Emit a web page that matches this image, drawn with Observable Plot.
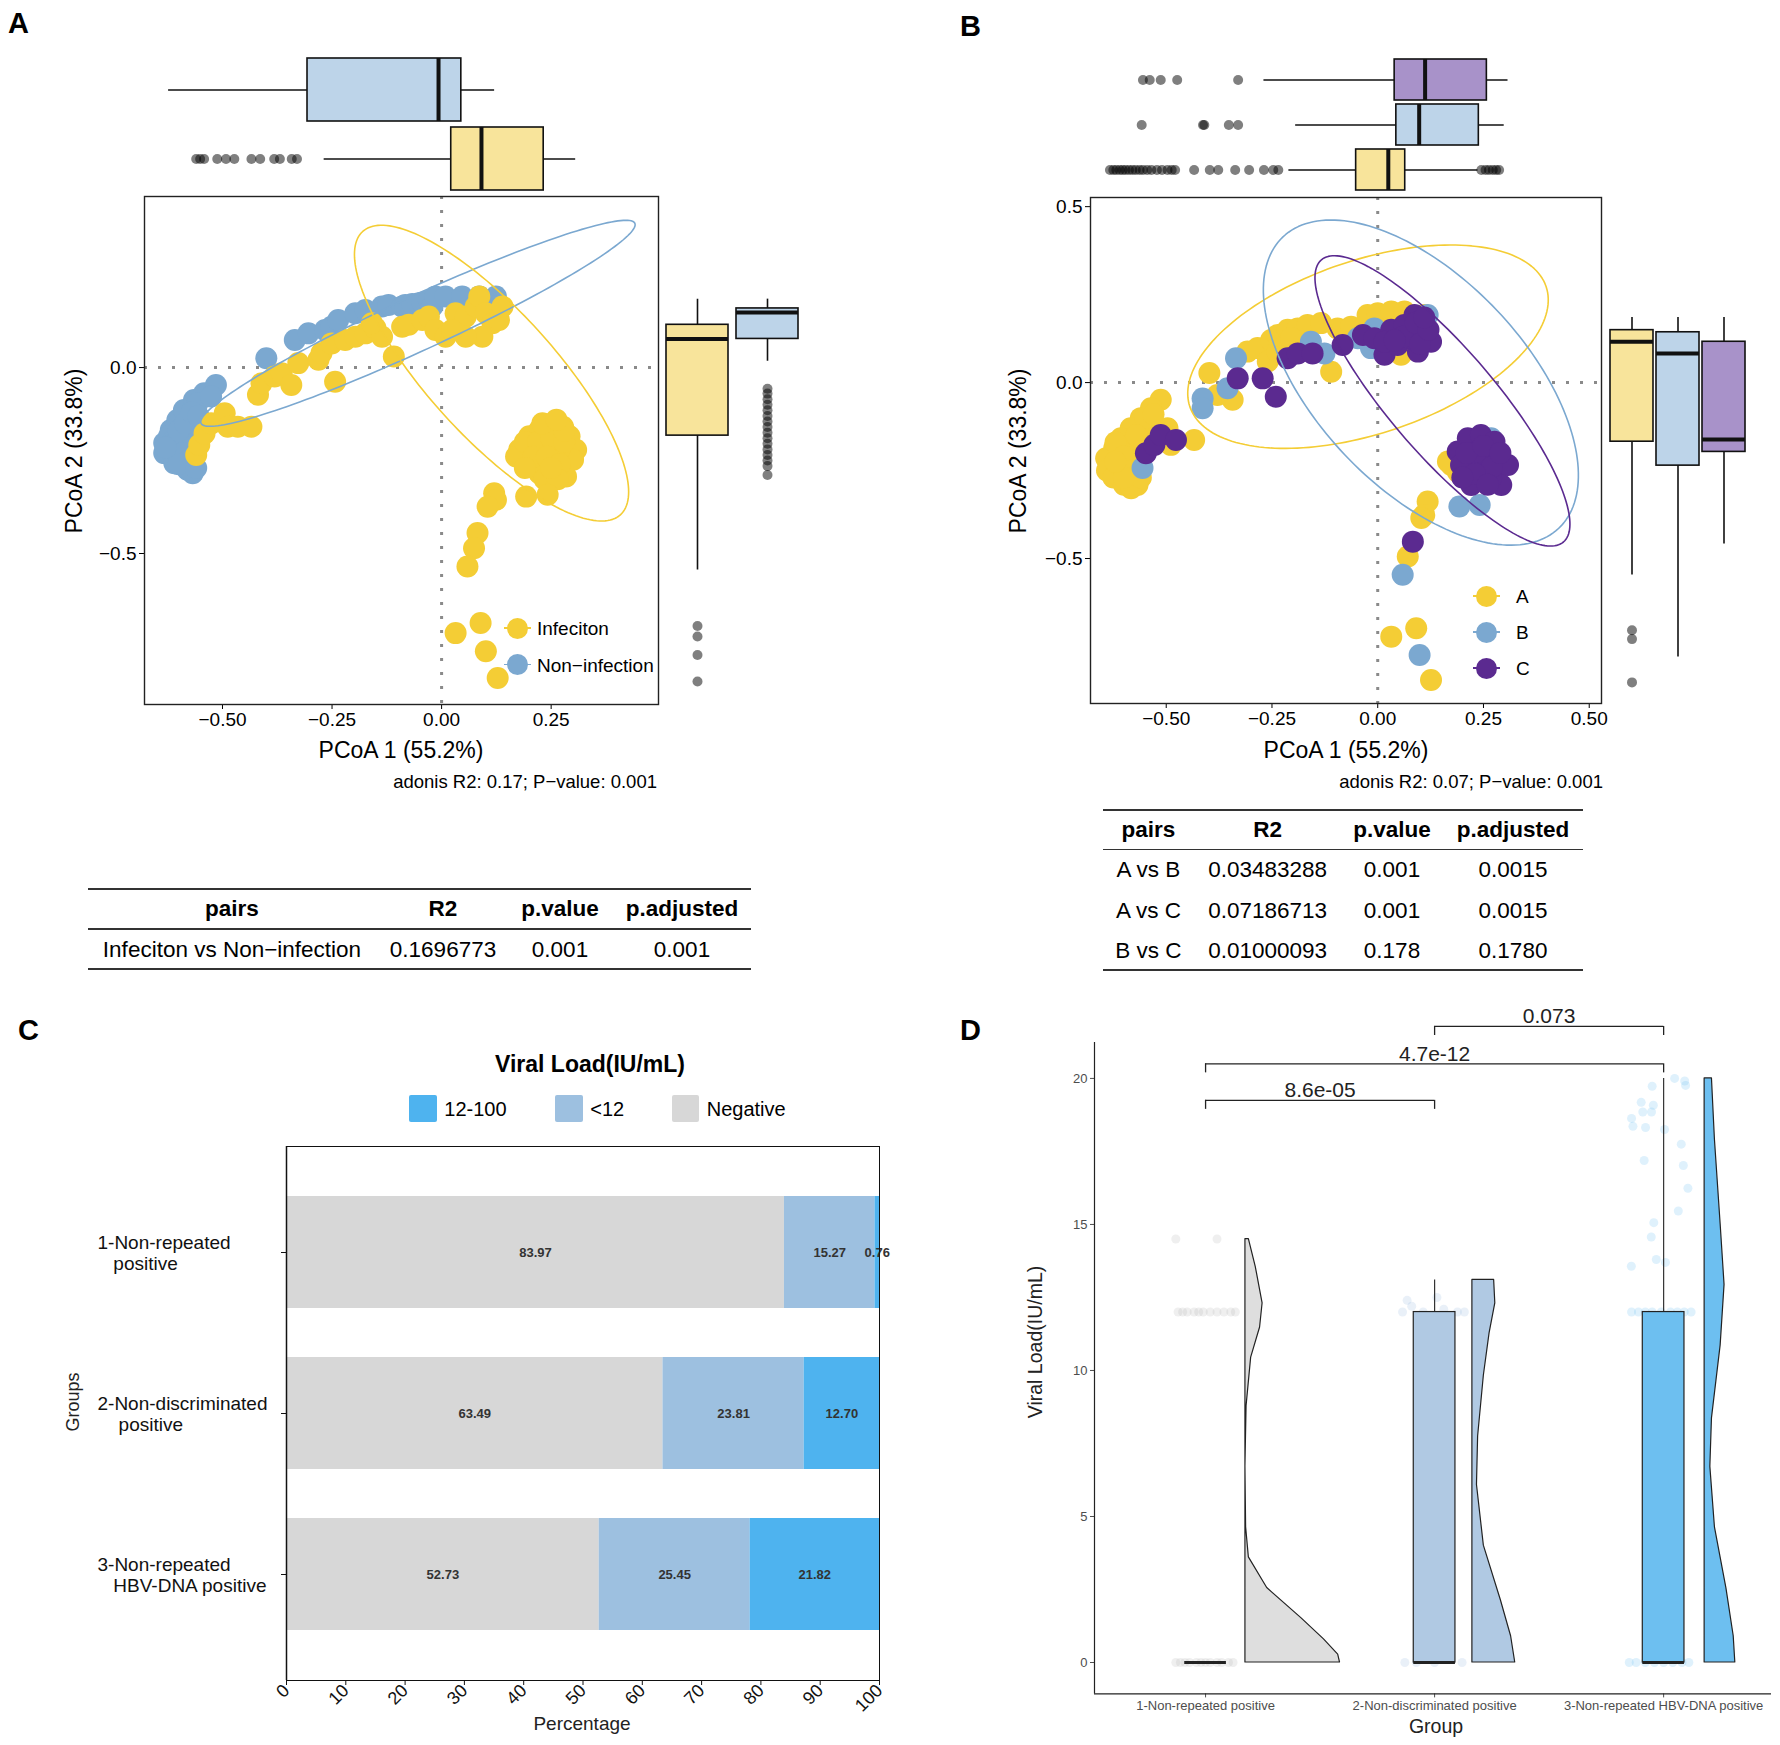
<!DOCTYPE html>
<html><head><meta charset="utf-8">
<script src="https://cdn.jsdelivr.net/npm/d3@7"></script>
<script src="https://cdn.jsdelivr.net/npm/@observablehq/plot@0.6"></script>
<style>
body{margin:0;background:#fff;}
#fig{position:relative;width:1780px;height:1745px;font-family:"Liberation Sans",Arial,sans-serif;background:#fff;overflow:hidden;}
#fig svg{position:absolute;}
</style></head><body><div id="fig"></div>
<script>
// ---------------- DATA ----------------
// Panel A
const groupsA = ["Infeciton", "Non-infection"];
const colorA = {"Infeciton": "#F4CD35", "Non-infection": "#7BA8D0"};
const fillA = {"Infeciton": "#F8E49B", "Non-infection": "#BDD4E9"};
const ptsA_non = [[-0.626,-0.230],[-0.633,-0.203],[-0.618,-0.168],[-0.603,-0.141],[-0.588,-0.114],[-0.565,-0.087],[-0.542,-0.069],[-0.515,-0.047],[-0.603,-0.248],[-0.580,-0.275],[-0.568,-0.284],[-0.622,-0.185],[-0.595,-0.221],[-0.610,-0.194],[-0.572,-0.168],[-0.588,-0.185],[-0.557,-0.096],[-0.526,-0.078],[-0.633,-0.230],[-0.610,-0.257],
 [-0.620,-0.210],[-0.600,-0.170],[-0.590,-0.230],[-0.575,-0.250],[-0.600,-0.260],[-0.630,-0.215],[-0.560,-0.270],[-0.585,-0.150],[-0.570,-0.120],[-0.555,-0.130],
 [-0.400,0.025],[-0.335,0.074],[-0.304,0.092],[-0.266,0.101],[-0.251,0.110],[-0.236,0.128],[-0.197,0.146],[-0.174,0.155],[-0.136,0.164],[-0.121,0.168],[-0.090,0.164],[-0.083,0.168],[-0.067,0.171],[-0.052,0.173],[-0.044,0.175],[-0.029,0.180],[-0.021,0.164],[-0.014,0.191],[0.009,0.191],[0.047,0.191],[0.086,0.191],[0.124,0.191]];
const ptsA_inf = [[-0.560,-0.235],[-0.553,-0.208],[-0.541,-0.177],[-0.526,-0.150],[-0.495,-0.123],[-0.488,-0.159],[-0.465,-0.159],[-0.434,-0.159],[-0.419,-0.073],[-0.411,-0.042],[-0.381,-0.024],[-0.365,-0.015],[-0.343,-0.047],[-0.327,0.012],[-0.281,0.021],[-0.274,0.039],[-0.251,0.065],[-0.220,0.074],[-0.197,0.083],[-0.174,0.092],[-0.151,0.106],[-0.136,0.083],[-0.159,0.119],[-0.243,-0.038],[-0.109,0.030],[-0.090,0.110],[-0.075,0.115],[-0.044,0.128],[-0.029,0.137],[-0.014,0.101],[0.009,0.083],[0.032,0.146],[0.055,0.137],[0.078,0.164],[0.086,0.191],[0.101,0.146],[0.116,0.119],[0.131,0.128],[0.093,0.083],[0.055,0.083],[0.024,0.101],[0.139,0.164],
 [0.177,-0.221],[0.200,-0.185],[0.223,-0.168],[0.254,-0.150],[0.277,-0.159],[0.292,-0.185],[0.307,-0.221],[0.300,-0.248],[0.284,-0.293],[0.254,-0.275],[0.231,-0.266],[0.200,-0.257],[0.170,-0.239],[0.216,-0.221],[0.246,-0.212],[0.269,-0.221],[0.239,-0.185],[0.208,-0.203],[0.223,-0.284],[0.261,-0.248],
 [0.190,-0.200],[0.220,-0.200],[0.250,-0.190],[0.280,-0.200],[0.210,-0.240],[0.240,-0.240],[0.270,-0.260],[0.190,-0.270],[0.235,-0.300],[0.265,-0.300],[0.280,-0.170],[0.230,-0.150],[0.250,-0.270],[0.262,-0.140],
 [0.193,-0.347],[0.242,-0.342],[0.120,-0.338],[0.124,-0.356],[0.105,-0.374],[0.082,-0.445],[0.074,-0.486],[0.059,-0.535],[0.032,-0.714],[0.089,-0.687],[0.101,-0.763],[0.128,-0.835]];
// stat_ellipse outlines: centre, semi-major and semi-minor vectors
const ellipseA_non = {cx:-0.054, cy:0.119, ax:0.495, ay:0.269, bx:0.026, by:-0.066};
const ellipseA_inf = {cx:0.114, cy:-0.015, ax:0.294, ay:-0.381, bx:0.107, by:0.114};
// marginal boxplots A (x = PCoA1 on top, y = PCoA2 on right)
const topA = [
  {g:"Non-infection", lo:-0.623, q1:-0.306, med:-0.007, q3:0.045, hi:0.121},
  {g:"Infeciton", lo:-0.268, q1:0.022, med:0.091, q3:0.233, hi:0.306}];
const outTopA_inf = [-0.560,-0.551,-0.542,-0.512,-0.492,-0.473,-0.434,-0.414,-0.382,-0.369,-0.342,-0.330];
const rightA = [
  {g:"Infeciton", lo:-0.544, q1:-0.183, med:0.077, q3:0.115, hi:0.184},
  {g:"Non-infection", lo:0.017, q1:0.077, med:0.148, q3:0.159, hi:0.184}];
const outRightA_inf = [-0.695,-0.723,-0.773,-0.844];
const outRightA_non = [-0.057,-0.070,-0.085,-0.100,-0.115,-0.130,-0.145,-0.160,-0.175,-0.190,-0.205,-0.220,-0.235,-0.250,-0.265,-0.289];

// Panel B
const groupsB = ["A", "B", "C"];
const colorB = {A: "#F4CD35", B: "#7BA8D0", C: "#5B2A90"};
const fillB = {A: "#F8E49B", B: "#BDD4E9", C: "#A892C9"};
const ptsB_A = [[-0.513,-0.049],[-0.536,-0.073],[-0.560,-0.101],[-0.584,-0.130],[-0.607,-0.158],[-0.623,-0.187],[-0.631,-0.215],[-0.635,-0.243],[-0.615,-0.262],[-0.591,-0.281],[-0.568,-0.291],[-0.599,-0.234],[-0.576,-0.196],[-0.552,-0.139],[-0.528,-0.120],[-0.497,-0.130],[-0.489,-0.177],[-0.434,-0.163],[-0.615,-0.196],[-0.631,-0.234],[-0.642,-0.215],[-0.640,-0.250],[-0.625,-0.270],[-0.600,-0.290],[-0.583,-0.300],
 [-0.620,-0.170],[-0.600,-0.210],[-0.580,-0.250],[-0.560,-0.270],[-0.600,-0.270],[-0.550,-0.100],[-0.530,-0.090],[-0.570,-0.150],[-0.620,-0.225],
 [-0.398,0.027],[-0.379,-0.035],[-0.343,-0.049],[-0.308,0.088],[-0.284,0.098],[-0.252,0.121],[-0.237,0.135],[-0.213,0.150],[-0.189,0.154],[-0.166,0.164],[-0.134,0.169],[-0.110,0.031],[-0.260,0.060],[-0.237,0.088],[-0.205,0.126],[-0.095,0.154],[-0.063,0.159],[-0.024,0.192],[0.000,0.197],[0.032,0.202],[0.063,0.202],[0.055,0.079],[0.016,0.088],[0.079,0.192],[0.110,0.192],
 [0.174,-0.234],[0.189,-0.253],[0.166,-0.224],[0.118,-0.338],[0.110,-0.376],[0.103,-0.385],[0.071,-0.494],[0.032,-0.722],[0.091,-0.698],[0.126,-0.845]];
const ptsB_B = [[-0.335,0.069],[-0.355,-0.016],[-0.414,-0.045],[-0.414,-0.073],[-0.556,-0.243],[-0.158,0.116],[-0.126,0.083],[-0.008,0.154],[0.118,0.192],[-0.016,0.098],[0.268,-0.158],[0.193,-0.352],[0.241,-0.348],[0.221,-0.281],[0.059,-0.546],[0.099,-0.774],[-0.047,0.126]];
const ptsB_C = [[-0.331,0.012],[-0.272,0.012],[-0.241,-0.040],[-0.548,-0.201],[-0.528,-0.177],[-0.513,-0.149],[-0.477,-0.163],[-0.213,0.069],[-0.189,0.083],[-0.154,0.083],[-0.083,0.107],[-0.035,0.135],[-0.008,0.126],[0.016,0.079],[0.032,0.150],[0.063,0.164],[0.087,0.192],[0.110,0.145],[0.126,0.116],[0.047,0.107],[0.095,0.088],[0.079,0.126],[0.016,0.116],
 [0.060,0.130],[0.090,0.170],[0.100,0.110],[0.120,0.150],[0.040,0.120],[0.110,0.185],
 [0.189,-0.196],[0.213,-0.158],[0.244,-0.149],[0.276,-0.168],[0.300,-0.234],[0.292,-0.291],[0.268,-0.272],[0.221,-0.291],[0.229,-0.234],[0.260,-0.215],[0.197,-0.234],[0.237,-0.196],[0.280,-0.206],[0.308,-0.234],[0.248,-0.262],
 [0.210,-0.200],[0.250,-0.180],[0.270,-0.240],[0.230,-0.260],[0.260,-0.290],[0.200,-0.270],[0.290,-0.200],
 [0.083,-0.452]];
const ellipseB_A = {cx:-0.023, cy:0.102, ax:0.421, ay:0.171, bx:0.066, by:-0.233};
const ellipseB_B = {cx:0.102, cy:0.000, ax:0.326, ay:-0.414, bx:0.180, by:0.205};
const ellipseB_C = {cx:0.153, cy:-0.052, ax:0.286, ay:-0.401, bx:0.095, by:0.097};
const topB = [
  {g:"C", lo:-0.269, q1:0.040, med:0.112, q3:0.258, hi:0.308},
  {g:"B", lo:-0.194, q1:0.044, med:0.098, q3:0.239, hi:0.299},
  {g:"A", lo:-0.210, q1:-0.051, med:0.025, q3:0.065, hi:0.237}];
const outTopB_C = [-0.555,-0.539,-0.513,-0.474,-0.330];
const outTopB_B = [-0.558,-0.413,-0.410,-0.352,-0.330];
const outTopB_A = [-0.633,-0.625,-0.618,-0.610,-0.603,-0.596,-0.588,-0.580,-0.572,-0.563,-0.555,-0.545,-0.535,-0.522,-0.510,-0.497,-0.487,-0.479,-0.434,-0.397,-0.377,-0.337,-0.304,-0.269,-0.247,-0.235,0.245,0.255,0.263,0.272,0.280,0.287];
const rightB = [
  {g:"A", lo:-0.547, q1:-0.168, med:0.116, q3:0.149, hi:0.185},
  {g:"B", lo:-0.780, q1:-0.236, med:0.083, q3:0.143, hi:0.185},
  {g:"C", lo:-0.459, q1:-0.197, med:-0.162, q3:0.116, hi:0.185}];
const outRightB_A = [-0.704,-0.729,-0.852];

// adonis pairwise tables
const tableHead = ["pairs", "R2", "p.value", "p.adjusted"];
const tableA = [["Infeciton vs Non\u2212infection", "0.1696773", "0.001", "0.001"]];
const tableB = [["A vs B", "0.03483288", "0.001", "0.0015"], ["A vs C", "0.07186713", "0.001", "0.0015"], ["B vs C", "0.01000093", "0.178", "0.1780"]];

// Panel C
const groupsC = ["1-Non-repeated positive", "2-Non-discriminated positive", "3-Non-repeated HBV-DNA positive"];
const labelsC = ["1-Non-repeated\n\u00a0\u00a0\u00a0positive", "2-Non-discriminated\n\u00a0\u00a0\u00a0\u00a0positive", "3-Non-repeated\n\u00a0\u00a0\u00a0HBV-DNA positive"];
const levelsC = ["12-100", "<12", "Negative"];
const colorsC = ["#4EB3EF", "#9DC0E0", "#D7D7D7"];
const negC = [83.97, 63.49, 52.73];
const lowC = [15.27, 23.81, 25.45];
const highC = [0.76, 12.70, 21.82];
const ticksC = [0, 10, 20, 30, 40, 50, 60, 70, 80, 90, 100];

// Panel D
const groupsD = ["1-Non-repeated positive", "2-Non-discriminated positive", "3-Non-repeated HBV-DNA positive"];
const colorsD = ["#DEDEDE", "#B0C9E3", "#6DBFF0"];
const jitColorsD = ["#B5B5B5", "#9DBCE0", "#6DBFF0"];
const posD = [1, 2, 3];
const q1D = [0, 0, 0], medD = [0, 0, 0], q3D = [0, 12, 12], hiD = [0, 13.1, 20];
const violinBaseD = [1.174, 2.165, 3.179];
const violin1 = [[0,0.413],[0.27,0.405],[0.79,0.343],[1.52,0.244],[2.55,0.095],[3.6,0.015],[4.63,0.003],[6.7,0.0],[8.78,0.005],[10.44,0.025],[11.47,0.064],[12.3,0.075],[13.55,0.045],[14.5,0.015]];
const violin2 = [[0,0.187],[0.9,0.169],[2.14,0.124],[4.0,0.050],[6.08,0.020],[7.74,0.025],[9.82,0.050],[11.27,0.075],[12.3,0.100],[13.1,0.095]];
const violin3 = [[0,0.134],[0.9,0.127],[2.55,0.095],[4.63,0.045],[6.7,0.025],[8.36,0.032],[10.86,0.070],[12.93,0.087],[15.0,0.070],[17.9,0.045],[20.0,0.032]];
const jit1 = [[0.87,0],[0.89,0],[0.91,0],[0.93,0],[0.96,0],[0.98,0],[1.0,0],[1.02,0],[1.05,0],[1.07,0],[1.1,0],[1.12,0],[0.88,12],[0.9,12],[0.92,12],[0.95,12],[0.97,12],[0.99,12],[1.02,12],[1.05,12],[1.08,12],[1.11,12],[1.13,12],[0.87,14.5],[1.05,14.5]];
const jit2 = [[1.86,12],[1.88,12.4],[1.9,12.2],[1.95,12],[2.01,12.5],[2.04,12.1],[2.1,12],[2.13,12],[1.87,0],[1.92,0],[2.0,0],[2.12,0]];
const jit3 = [[3.048,20.0],[3.092,19.91],[3.096,19.76],[2.950,19.73],[2.902,19.18],[2.955,19.08],[2.909,18.85],[2.947,18.85],[2.860,18.63],[2.866,18.36],[2.921,18.32],[3.004,18.25],[3.077,17.75],[2.915,17.19],[3.086,17.02],[3.106,16.24],[3.064,15.46],[2.957,15.06],[2.946,14.57],[2.859,13.57],[2.968,13.80],[3.008,13.70],[2.86,12],[2.89,12],[2.92,12],[2.95,12],[2.99,12],[3.03,12],[3.06,12],[3.09,12],[3.12,12],[2.85,0],[2.88,0],[2.92,0],[2.96,0],[3.0,0],[3.04,0],[3.08,0],[3.11,0]];
const bracketsD = [{x1:1, x2:2, y:19.25, label:"8.6e-05"}, {x1:1, x2:3, y:20.5, label:"4.7e-12"}, {x1:2, x2:3, y:21.78, label:"0.073"}];

// ---------------- HELPERS ----------------
const fig = document.getElementById("fig");
const FONT = '"Liberation Sans", Arial, sans-serif';
function place(svg, left, top) { svg.style.left = left + "px"; svg.style.top = top + "px"; fig.appendChild(svg); }
function txt(s, x, y, o = {}) {
  const d = document.createElement("div");
  d.textContent = s;
  const a = o.anchor || "middle";
  const tx = a === "middle" ? "-50%" : a === "end" ? "-100%" : "0";
  d.style.cssText = `position:absolute;left:${x}px;top:${y}px;white-space:nowrap;line-height:1;font-size:${o.size || 19}px;font-weight:${o.weight || "normal"};color:${o.color || "#000"};transform:translate(${tx},-50%)${o.rotate ? ` rotate(${o.rotate}deg)` : ""};`;
  fig.appendChild(d);
}
function box(x, y, w, h, css) {
  const d = document.createElement("div");
  d.style.cssText = `position:absolute;left:${x}px;top:${y}px;width:${w}px;height:${h}px;${css}`;
  fig.appendChild(d);
}
function hline(x1, x2, y) { box(x1, y - 0.7, x2 - x1, 1.4, "background:#333;"); }
function ellipsePts(e) {
  return d3.range(181).map(i => { const t = 2 * Math.PI * i / 180;
    return {x: e.cx + e.ax * Math.cos(t) + e.bx * Math.sin(t), y: e.cy + e.ay * Math.cos(t) + e.by * Math.sin(t)}; });
}
const styleBase = (size, color = "#000") => ({fontFamily: FONT, fontSize: size + "px", color, background: "transparent", overflow: "visible"});
const dotted = {stroke: "#8a8a8a", strokeWidth: 3, strokeDasharray: "3,11"};
const R = 11;

// ---------------- PANEL A ----------------
const xdomA = [-0.678, 0.495], ydomA = [-0.906, 0.460];
place(Plot.plot({
  width: 680, height: 600, marginLeft: 144, marginRight: 22, marginTop: 16, marginBottom: 76,
  style: styleBase(19),
  x: {domain: xdomA, ticks: [-0.5, -0.25, 0, 0.25], tickFormat: d3.format(".2f"), tickSize: 5, tickPadding: 3, label: null},
  y: {domain: ydomA, ticks: [0, -0.5], tickFormat: d3.format(".1f"), tickSize: 5, tickPadding: 3, label: null},
  marks: [
    Plot.ruleY([0], dotted), Plot.ruleX([0], dotted),
    Plot.dot(ptsA_non, {x: d => d[0], y: d => d[1], r: R, fill: colorA["Non-infection"]}),
    Plot.dot(ptsA_inf, {x: d => d[0], y: d => d[1], r: R, fill: colorA["Infeciton"]}),
    Plot.line(ellipsePts(ellipseA_non), {x: "x", y: "y", stroke: colorA["Non-infection"], strokeWidth: 1.6}),
    Plot.line(ellipsePts(ellipseA_inf), {x: "x", y: "y", stroke: colorA["Infeciton"], strokeWidth: 1.6}),
    Plot.frame({stroke: "#222", strokeWidth: 1.4})
  ]
}), 0, 180);
place(Plot.plot({
  width: 680, height: 160, marginLeft: 144, marginRight: 22, marginTop: 17, marginBottom: 10,
  style: styleBase(19),
  x: {domain: xdomA, axis: null},
  y: {domain: ["Non-infection", "Infeciton"], axis: null, paddingInner: 0.089, paddingOuter: 0},
  marks: [
    Plot.ruleY(topA, {y: "g", x1: "lo", x2: "hi", stroke: "#111", strokeWidth: 1.6}),
    Plot.barX(topA, {y: "g", x1: "q1", x2: "q3", fill: d => fillA[d.g], stroke: "#111", strokeWidth: 1.6}),
    Plot.tickX(topA, {y: "g", x: "med", stroke: "#111", strokeWidth: 4}),
    Plot.dot(outTopA_inf.map(v => ({g: "Infeciton", v})), {x: "v", y: "g", r: 5, fill: "#000", fillOpacity: 0.5})
  ]
}), 0, 40);
place(Plot.plot({
  width: 145, height: 600, marginLeft: 6, marginRight: 6, marginTop: 16, marginBottom: 76,
  style: styleBase(19),
  x: {domain: ["Infeciton", "Non-infection"], axis: null, paddingInner: 0.113, paddingOuter: 0},
  y: {domain: ydomA, axis: null},
  marks: [
    Plot.ruleX(rightA, {x: "g", y1: "lo", y2: "hi", stroke: "#111", strokeWidth: 1.6}),
    Plot.barY(rightA, {x: "g", y1: "q1", y2: "q3", fill: d => fillA[d.g], stroke: "#111", strokeWidth: 1.6}),
    Plot.tickY(rightA, {x: "g", y: "med", stroke: "#111", strokeWidth: 4}),
    Plot.dot(outRightA_inf.map(v => ({g: "Infeciton", v})).concat(outRightA_non.map(v => ({g: "Non-infection", v}))),
      {x: "g", y: "v", r: 5, fill: "#000", fillOpacity: 0.5})
  ]
}), 660, 180);

// ---------------- PANEL B ----------------
const xdomB = [-0.679, 0.529], ydomB = [-0.912, 0.526];
place(Plot.plot({
  width: 720, height: 600, marginLeft: 190, marginRight: 19, marginTop: 17, marginBottom: 77,
  style: styleBase(19),
  x: {domain: xdomB, ticks: [-0.5, -0.25, 0, 0.25, 0.5], tickFormat: d3.format(".2f"), tickSize: 5, tickPadding: 3, label: null},
  y: {domain: ydomB, ticks: [0.5, 0, -0.5], tickFormat: d3.format(".1f"), tickSize: 5, tickPadding: 3, label: null},
  marks: [
    Plot.ruleY([0], dotted), Plot.ruleX([0], dotted),
    Plot.dot(ptsB_A, {x: d => d[0], y: d => d[1], r: R, fill: colorB.A}),
    Plot.dot(ptsB_B, {x: d => d[0], y: d => d[1], r: R, fill: colorB.B}),
    Plot.dot(ptsB_C, {x: d => d[0], y: d => d[1], r: R, fill: colorB.C}),
    Plot.line(ellipsePts(ellipseB_A), {x: "x", y: "y", stroke: colorB.A, strokeWidth: 1.6}),
    Plot.line(ellipsePts(ellipseB_B), {x: "x", y: "y", stroke: colorB.B, strokeWidth: 1.6}),
    Plot.line(ellipsePts(ellipseB_C), {x: "x", y: "y", stroke: colorB.C, strokeWidth: 1.6}),
    Plot.frame({stroke: "#222", strokeWidth: 1.4})
  ]
}), 900, 180);
place(Plot.plot({
  width: 720, height: 160, marginLeft: 190, marginRight: 19, marginTop: 18, marginBottom: 10,
  style: styleBase(19),
  x: {domain: xdomB, axis: null},
  y: {domain: ["C", "B", "A"], axis: null, paddingInner: 0.099, paddingOuter: 0},
  marks: [
    Plot.ruleY(topB, {y: "g", x1: "lo", x2: "hi", stroke: "#111", strokeWidth: 1.6}),
    Plot.barX(topB, {y: "g", x1: "q1", x2: "q3", fill: d => fillB[d.g], stroke: "#111", strokeWidth: 1.6}),
    Plot.tickX(topB, {y: "g", x: "med", stroke: "#111", strokeWidth: 4}),
    Plot.dot([].concat(outTopB_C.map(v => ({g: "C", v})), outTopB_B.map(v => ({g: "B", v})), outTopB_A.map(v => ({g: "A", v}))),
      {x: "v", y: "g", r: 5, fill: "#000", fillOpacity: 0.5})
  ]
}), 900, 40);
place(Plot.plot({
  width: 175, height: 600, marginLeft: 5, marginRight: 35, marginTop: 17, marginBottom: 77,
  style: styleBase(19),
  x: {domain: groupsB, axis: null, paddingInner: 0.076, paddingOuter: 0},
  y: {domain: ydomB, axis: null},
  marks: [
    Plot.ruleX(rightB, {x: "g", y1: "lo", y2: "hi", stroke: "#111", strokeWidth: 1.6}),
    Plot.barY(rightB, {x: "g", y1: "q1", y2: "q3", fill: d => fillB[d.g], stroke: "#111", strokeWidth: 1.6}),
    Plot.tickY(rightB, {x: "g", y: "med", stroke: "#111", strokeWidth: 4}),
    Plot.dot(outRightB_A.map(v => ({g: "A", v})), {x: "g", y: "v", r: 5, fill: "#000", fillOpacity: 0.5})
  ]
}), 1605, 180);

// ---------------- PANEL C ----------------
const dataC = [];
groupsC.forEach((g, i) => {
  dataC.push({group: g, level: "Negative", value: negC[i]});
  dataC.push({group: g, level: "<12", value: lowC[i]});
  dataC.push({group: g, level: "12-100", value: highC[i]});
});
const colC = l => colorsC[levelsC.indexOf(l)];
const stackOrder = ["Negative", "<12", "12-100"];
place(Plot.plot({
  width: 900, height: 600, marginLeft: 286, marginRight: 21, marginTop: 6, marginBottom: 60,
  style: styleBase(18, "#111"),
  x: {domain: [0, 100], ticks: ticksC, tickRotate: -45, tickSize: 5, tickPadding: 2, label: null},
  y: {domain: groupsC, paddingInner: 0.303, paddingOuter: 0.305, tickSize: 5, tickFormat: () => "", label: null},
  marks: [
    Plot.barX(dataC, Plot.stackX({x: "value", y: "group", z: "level", order: stackOrder, fill: d => colC(d.level)})),
    Plot.text(dataC, Plot.stackX({x: "value", y: "group", z: "level", order: stackOrder, text: d => d.value.toFixed(2), fontWeight: "bold", fontSize: 13, fill: "#333"})),
    Plot.text(groupsC, {y: d => d, text: (d, i) => labelsC[i], frameAnchor: "left", textAnchor: "start", dx: -189, lineHeight: 1.1, fontSize: 19, fill: "#111"}),
    Plot.frame({stroke: "#111", strokeWidth: 1}),
    Plot.ruleX([0], {stroke: "#111", strokeWidth: 1.5})
  ]
}), 0, 1140);

// ---------------- PANEL D ----------------
const boxD = posD.map((p, i) => ({pos: p, q1: q1D[i], med: medD[i], q3: q3D[i], hi: hiD[i], fill: colorsD[i]}));
const violins = [violin1, violin2, violin3];
const jits = [jit1, jit2, jit3];
const hw = 0.091, tip = 0.31;
place(Plot.plot({
  width: 780, height: 755, marginLeft: 94, marginRight: 9, marginTop: 52, marginBottom: 51.6,
  style: styleBase(13, "#4D4D4D"),
  x: {domain: [0.515, 3.471], ticks: posD, tickFormat: d => groupsD[d - 1], tickSize: 4, tickPadding: 3, label: null},
  y: {domain: [-1.075, 21.23], ticks: [0, 5, 10, 15, 20], tickSize: 4, tickPadding: 3, label: null},
  marks: [
    ...jits.map((j, i) => Plot.dot(j, {x: d => d[0], y: d => d[1], r: 4.5, fill: jitColorsD[i], fillOpacity: 0.22})),
    ...violins.map((v, i) => Plot.areaX(v, {y: d => d[0], x1: () => violinBaseD[i], x2: d => violinBaseD[i] + d[1], fill: colorsD[i], stroke: "#222", strokeWidth: 1.2})),
    Plot.ruleX(boxD, {x: "pos", y1: "q3", y2: "hi", stroke: "#333", strokeWidth: 1.2}),
    Plot.rect(boxD, {x1: d => d.pos - hw, x2: d => d.pos + hw, y1: "q1", y2: "q3", fill: "fill", stroke: "#222", strokeWidth: 1.2}),
    Plot.ruleY(boxD, {y: "med", x1: d => d.pos - hw, x2: d => d.pos + hw, stroke: "#222", strokeWidth: 3}),
    Plot.ruleY(bracketsD, {y: "y", x1: "x1", x2: "x2", stroke: "#222", strokeWidth: 1.3}),
    Plot.ruleX(bracketsD, {x: "x1", y1: d => d.y - tip, y2: "y", stroke: "#222", strokeWidth: 1.3}),
    Plot.ruleX(bracketsD, {x: "x2", y1: d => d.y - tip, y2: "y", stroke: "#222", strokeWidth: 1.3}),
    Plot.text(bracketsD, {x: d => (d.x1 + d.x2) / 2, y: "y", text: "label", lineAnchor: "bottom", dy: -3, fontSize: 21, fill: "#222"}),
    Plot.ruleX([0.515], {stroke: "#222", strokeWidth: 1.2}),
    Plot.ruleY([-1.075], {stroke: "#222", strokeWidth: 1.2})
  ]
}), 1000, 990);

// ---------------- TEXT / LEGENDS / TABLES ----------------
txt("A", 18.5, 23, {size: 29, weight: "bold"});
txt("B", 970.5, 26, {size: 29, weight: "bold"});
txt("C", 28.5, 1030, {size: 29, weight: "bold"});
txt("D", 970.5, 1030, {size: 29, weight: "bold"});

txt("PCoA 1 (55.2%)", 401, 750, {size: 23});
txt("PCoA 2 (33.8%)", 74, 451, {size: 23, rotate: -90});
txt("adonis R2: 0.17; P\u2212value: 0.001", 657, 782, {size: 18.5, anchor: "end"});
txt("PCoA 1 (55.2%)", 1346, 750, {size: 23});
txt("PCoA 2 (33.8%)", 1018, 451, {size: 23, rotate: -90});
txt("adonis R2: 0.07; P\u2212value: 0.001", 1603, 782, {size: 18.5, anchor: "end"});

function legendKey(x, y, color) {
  box(x - 13.5, y - 0.8, 27, 1.6, `background:${color};`);
  box(x - 10.5, y - 10.5, 21, 21, `background:${color};border-radius:50%;`);
}
const legA = ["Infeciton", "Non\u2212infection"];
legA.forEach((l, i) => { legendKey(517, 628 + 36.5 * i, colorA[groupsA[i]]); txt(l, 537, 628 + 36.5 * i, {size: 19, anchor: "start"}); });
groupsB.forEach((l, i) => { legendKey(1486, 596 + 36 * i, colorB[l]); txt(l, 1516, 596 + 36 * i, {size: 19, anchor: "start"}); });

// tables
const colXA = [232, 443, 560, 682];
hline(88, 751, 889); hline(88, 751, 929); hline(88, 751, 969);
tableHead.forEach((h, j) => txt(h, colXA[j], 909, {size: 22.5, weight: "bold"}));
tableA.forEach((r, i) => r.forEach((c, j) => txt(c, colXA[j], 949.5 + 40.7 * i, {size: 22.5})));
const colXB = [1148.4, 1267.6, 1392, 1513];
hline(1103, 1583, 810); hline(1103, 1583, 849.7); hline(1103, 1583, 970);
tableHead.forEach((h, j) => txt(h, colXB[j], 830, {size: 22.5, weight: "bold"}));
tableB.forEach((r, i) => r.forEach((c, j) => txt(c, colXB[j], 870 + 40.7 * i, {size: 22.5})));

// panel C legend and titles
txt("Viral Load(IU/mL)", 590, 1064, {size: 23, weight: "bold"});
const legCx = [409.3, 555.3, 671.7];
levelsC.forEach((l, i) => {
  box(legCx[i], 1095, 27.4, 27.4, `background:${colorsC[i]};border-radius:2px;`);
  txt(l, legCx[i] + 35, 1109, {size: 20, anchor: "start"});
});
txt("Percentage", 582, 1723, {size: 19, color: "#222"});
txt("Groups", 73, 1402, {size: 18, rotate: -90, color: "#222"});

// panel D titles
txt("Viral Load(IU/mL)", 1035.5, 1342, {size: 19.5, rotate: -90, color: "#222"});
txt("Group", 1436, 1727, {size: 19.5, color: "#222"});
</script></body></html>
